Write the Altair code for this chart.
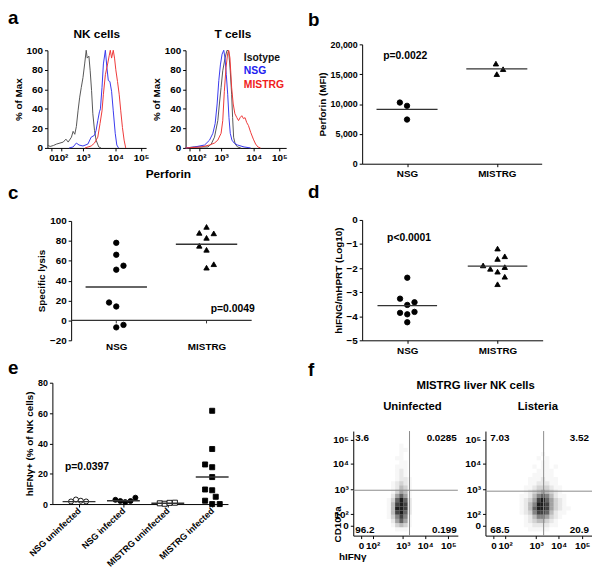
import json
import altair as alt
import pandas as pd

# ============================ DATA ============================
FLOW_TICK_LABELS = ["0", "10²", "10³", "10⁴", "10⁵"]

# (a) perforin histograms: x = position on the flow display axis (0-100), y = % of max
HIST_TICKS = [4, 13.5, 36, 69, 95]
nk_iso_x = [0, 2.7, 6, 9.3, 12.7, 16, 18.7, 21, 24.3, 26, 27.7, 29.3, 31, 32.7, 34.3, 36, 37.7, 39.3, 40.3, 42, 43.3, 44.7, 46, 47.7, 49.3, 52, 54.3]
nk_iso_y = [3, 1.5, 2.5, 4, 5, 6, 9, 6, 11, 17, 14, 22, 38, 52, 62, 72, 86, 100, 92, 94, 79, 59, 35, 18, 8, 1, 0]
nk_nsg_x = [22, 26, 29.3, 32, 36, 41, 44.3, 47.7, 49.3, 51, 52.7, 53.7, 55.3, 56.7, 58.7, 60.3, 61.7, 63.3, 65, 66.7, 68.7, 70.3, 72]
nk_nsg_y = [0, 1, 5, 3, 2, 4, 11, 13, 18, 28, 37, 40, 62, 86, 100, 82, 69, 68, 58, 38, 15, 3, 0]
nk_mis_x = [38, 44.3, 47.7, 51, 53.3, 55.3, 56.7, 58.7, 61, 62.7, 63.7, 65, 66.7, 68, 69.3, 71, 72.7, 74.3, 76, 77.7, 79.3]
nk_mis_y = [0, 2, 5, 11, 25, 38, 55, 75, 86, 95, 100, 92, 100, 92, 80, 68, 55, 38, 21, 8, 0]
t_iso_x = [0, 9.3, 22.7, 26, 29.3, 32.7, 34.3, 36, 37.7, 40, 42, 43.7, 45.3, 46.7, 47.7, 48.7, 50.3, 52.7, 56]
t_iso_y = [0, 1, 1, 4, 11, 28, 45, 62, 79, 92, 100, 99, 79, 55, 31, 11, 4, 1, 0]
t_nsg_x = [0, 9.3, 19.3, 24.3, 27.7, 30, 32, 33.7, 35.3, 37, 38.7, 40, 41.3, 42.7, 44, 45.3, 47, 49.3, 52.7, 59.3, 66]
t_nsg_y = [0, 1, 3, 8, 15, 25, 45, 69, 85, 96, 100, 92, 75, 55, 31, 15, 8, 5, 3, 1, 0]
t_mis_x = [0, 16, 24.3, 29.3, 32.7, 36, 37.7, 39.3, 41, 42.7, 43.7, 45, 46.7, 48.3, 50, 52, 53.7, 55.3, 57, 58.7, 60.3, 62, 63.7, 66, 68.7, 71, 73.3, 76]
t_mis_y = [0, 1, 3, 5, 8, 15, 28, 58, 82, 97, 100, 92, 62, 45, 35, 31, 28, 31, 33, 30, 31, 26, 23, 16, 9, 4, 1, 0]
legend_names = ["Isotype", "NSG", "MISTRG"]
legend_colors = ["#111111", "#2020f0", "#f02020"]
line_colors = ["#555555", "#3838ee", "#ee3838"]

# (b) perforin MFI
groups2 = ["NSG", "MISTRG"]
b_cat = [0, 0, 0, 1, 1, 1]
b_jit = [-0.08, 0.0, 0.0, -0.01, 0.0, 0.07]
b_val = [10250, 9700, 7400, 16770, 15010, 15840]
b_mean = [9100, 15900]

# (c) specific lysis
c_cat = [0] * 8 + [1] * 8
c_jit = [0, 0, 0, 0.08, -0.08, 0, 0, 0.08, 0, -0.08, 0.08, 0, -0.08, 0, 0, 0.08]
c_val = [78, 66, 51, 55, 18, 14, -7, -4.5, 94, 88, 87.5, 83, 75, 71, 53, 56.5]
c_mean = [33.6, 76.5]

# (d) hIFNG / mHPRT (log10)
d_cat = [0] * 8 + [1] * 9
d_jit = [0, -0.08, 0.08, 0, -0.08, 0, 0.08, 0, 0, 0, 0.08, -0.16, -0.08, 0, 0.08, 0.08, 0]
d_val = [-2.40, -3.27, -3.42, -3.53, -3.86, -3.92, -3.82, -4.25,
         -1.19, -1.62, -1.51, -1.89, -2.03, -2.15, -1.96, -2.36, -2.67]
d_mean = [-3.56, -1.92]

# (e) hIFNg+ % of NK cells
groups4 = ["NSG uninfected", "NSG infected", "MISTRG uninfected", "MISTRG infected"]
e_cat = [0] * 4 + [1] * 5 + [2] * 4 + [3] * 11
e_jit = [-0.18, -0.07, 0.04, 0.16,
         -0.18, -0.07, 0.04, 0.16, 0.27,
         -0.18, -0.07, 0.04, 0.16,
         0, 0, -0.16, 0, 0, -0.16, 0, -0.16, 0.08, 0, 0.17]
e_val = [1.7, 3.0, 2.2, 1.7,
         2.8, 2.0, 1.3, 2.0, 4.2,
         0.5, 0.2, 0.8, 0.9,
         61.5, 36.3, 26.1, 24.3, 17.8, 9.6, 9.1, 2.2, 4.8, 0, 0]
e_mean = [1.6, 2.2, 0.5, 17.8]

# (f) flow plots, display channel units (0-1000); density read by eye per 40x40 cell
F_XTICKS = [75, 185, 475, 688, 908]
F_YTICKS = [94, 203, 443, 689, 915]
f1_cols = [340, 380, 420, 460, 500, 540, 580]
f1_rows = [860, 820, 780, 740, 700, 660, 620, 580, 540, 500, 460, 420, 380, 340, 300, 260, 220, 180, 140, 100, 60]
f1_grid = ["0001000", "0001100", "0001000", "0011000", "0001100", "0011100", "0012100",
           "0012100", "0012210", "0123210", "0124310", "0135410", "0257510", "1379720",
           "1489820", "1499820", "1489720", "1368610", "0257510", "0134310", "0011100"]
f2_cols = [300, 340, 380, 420, 460, 500, 540, 580, 620, 660, 700, 740, 780]
f2_rows = [780, 740, 700, 660, 620, 580, 540, 500, 460, 420, 380, 340, 300, 260, 220, 180, 140, 100, 60]
f2_grid = ["0000001000000", "0000010100000", "0000001100000", "0000101101000", "0000011110000",
           "0000111110000", "0001112111000", "0001122211000", "0011233321100", "0012345432100",
           "0112467642110", "0123589753210", "0124699853210", "0124799853211", "0123688742110",
           "0012466532100", "0012344321000", "0011222211000", "0001111100000"]
f1_gate = [538, 434]
f2_gate = [546, 425]
f1_quads = ["3.6", "0.0285", "96.2", "0.199"]
f2_quads = ["7.03", "3.52", "68.5", "20.9"]

# ============================ LAYOUT ============================
W, H, M = 592, 563, 8
FONT = "Liberation Sans"
LAYOUT = {
    "nk": {"x": (48, 148), "y": (146, 47), "xd": [0, 100], "yd": [0, 100]},
    "t":  {"x": (188, 290), "y": (146, 47), "xd": [0, 102], "yd": [0, 100]},
    "b":  {"x": (367, 549), "y": (162, 41), "xd": [-0.5, 1.5], "yd": [0, 20000]},
    "c":  {"x": (72, 255), "y": (341, 220), "xd": [-0.5, 1.5], "yd": [-20, 100]},
    "d":  {"x": (367, 550), "y": (341, 219), "xd": [-0.5, 1.5], "yd": [-5, 0]},
    "e":  {"x": (53, 231), "y": (507, 384), "xd": [-0.6, 3.356], "yd": [0, 80]},
    "f1": {"x": (358, 464), "y": (539, 433), "xd": [0, 1000], "yd": [0, 1000]},
    "f2": {"x": (492, 600), "y": (539, 433), "xd": [0, 1000], "yd": [0, 1000]},
}


def xsc(p):
    L = LAYOUT[p]
    return alt.Scale(domain=L["xd"], range=[L["x"][0] - M, L["x"][1] - M], nice=False, zero=False)


def ysc(p):
    L = LAYOUT[p]
    return alt.Scale(domain=L["yd"], range=[L["y"][0] - M, L["y"][1] - M], nice=False, zero=False)


def xax(p, **kw):
    return alt.Axis(orient="bottom", offset=LAYOUT[p]["y"][0] - M - H, grid=False, **kw)


def yax(p, **kw):
    return alt.Axis(orient="left", offset=-(LAYOUT[p]["x"][0] - M), grid=False, **kw)


def X(p, f="x", axis=None):
    return alt.X(f, type="quantitative", scale=xsc(p), axis=axis)


def Y(p, f="y", axis=None):
    return alt.Y(f, type="quantitative", scale=ysc(p), axis=axis)


def label_expr(labels, values):
    return f"{json.dumps(labels, ensure_ascii=False)}[indexof({json.dumps(values)}, datum.value)]"


def texts(p, xs, ys, labels, size=10.5, color="black", align="center", baseline="middle"):
    df = pd.DataFrame({"x": xs, "y": ys, "t": labels})
    return alt.Chart(df).mark_text(font=FONT, fontWeight="bold", fontSize=size, color=color,
                                   align=align, baseline=baseline).encode(
        x=X(p), y=Y(p), text="t:N")


def line(p, xs, ys, color, xaxis=None, yaxis=None):
    df = pd.DataFrame({"x": xs, "y": ys})
    return alt.Chart(df).mark_line(color=color, strokeWidth=1).encode(
        x=X(p, axis=xaxis), y=Y(p, axis=yaxis))


def dots(p, cats, jits, vals, shape, filled=True, size=30, xaxis=None, yaxis=None):
    df = pd.DataFrame({"x": [c + j for c, j in zip(cats, jits)], "y": vals})
    mk = alt.Chart(df).mark_point(shape=shape, filled=True, size=size,
                                  fill="black" if filled else "white", stroke="black",
                                  strokeWidth=0.9, opacity=1)
    return mk.encode(x=X(p, axis=xaxis), y=Y(p, axis=yaxis))


def means(p, cats, vals, half):
    df = pd.DataFrame({"x": [c - half for c in cats], "x2": [c + half for c in cats], "y": vals})
    return alt.Chart(df).mark_rule(color="#333333", strokeWidth=1.4).encode(
        x=X(p), x2="x2:Q", y=Y(p))


def density(p, cols, rows, grid):
    recs = []
    for r, row in zip(rows, grid):
        for c, ch in zip(cols, row):
            if ch != "0":
                recs.append({"x": c - 20, "x2": c + 20, "y": r - 20, "y2": r + 20, "d": int(ch)})
    df = pd.DataFrame(recs)
    return alt.Chart(df).mark_rect(color="#111111").encode(
        x=X(p), x2="x2:Q", y=Y(p), y2="y2:Q",
        opacity=alt.Opacity("d:Q", scale=alt.Scale(type="pow", exponent=1.5, domain=[0, 9],
                                                   range=[0, 0.95]), legend=None))


def gate(p, g):
    df = pd.DataFrame({"x": [g[0], 0], "x2": [g[0], 1000], "y": [0, g[1]], "y2": [1000, g[1]]})
    return alt.Chart(df).mark_rule(color="#8a8a8a", strokeWidth=1).encode(
        x=X(p), x2="x2:Q", y=Y(p), y2="y2:Q")


layers = []

# ---------------- (a) ----------------
hist_lab = label_expr(FLOW_TICK_LABELS, HIST_TICKS)
layers.append(line("nk", nk_iso_x, nk_iso_y, line_colors[0],
                   xaxis=xax("nk", values=HIST_TICKS, labelExpr=hist_lab, title="Perforin",
                             titleX=162, titleY=26, titleBaseline="middle", titleFontSize=12,
                             labelFontSize=10),
                   yaxis=yax("nk", values=[0, 20, 40, 60, 80, 100], title="% of Max", labelFontSize=10)))
layers.append(line("nk", nk_nsg_x, nk_nsg_y, line_colors[1]))
layers.append(line("nk", nk_mis_x, nk_mis_y, line_colors[2]))
layers.append(line("t", t_iso_x, t_iso_y, line_colors[0],
                   xaxis=xax("t", values=HIST_TICKS, labelExpr=hist_lab, title=None, labelFontSize=10),
                   yaxis=yax("t", values=[0, 20, 40, 60, 80, 100], title="% of Max", labelFontSize=10)))
layers.append(line("t", t_nsg_x, t_nsg_y, line_colors[1]))
layers.append(line("t", t_mis_x, t_mis_y, line_colors[2]))
layers.append(texts("nk", [50], [117], ["NK cells"], size=12))
layers.append(texts("t", [48], [117], ["T cells"], size=12))
for name, col, yy in zip(legend_names, legend_colors, [92, 79, 64]):
    layers.append(texts("t", [59], [yy], [name], size=10.5, color=col, align="left"))

# ---------------- (b) ----------------
cat_lab2 = f"{json.dumps(groups2)}[datum.value]"
layers.append(dots("b", b_cat[:3], b_jit[:3], b_val[:3], "circle",
                   xaxis=xax("b", values=[0, 1], labelExpr=cat_lab2, title=None, labelFontSize=10),
                   yaxis=yax("b", values=[0, 5000, 10000, 15000, 20000], format=",d",
                             title="Perforin (MFI)")))
layers.append(dots("b", b_cat[3:], b_jit[3:], b_val[3:], "triangle-up"))
layers.append(means("b", [0, 1], b_mean, 0.34))
layers.append(texts("b", [-0.02], [18080], ["p=0.0022"]))

# ---------------- (c) ----------------
zero_df = pd.DataFrame({"x": [-0.5], "x2": [1.5], "y": [0]})
layers.append(alt.Chart(zero_df).mark_rule(color="#333333", strokeWidth=1.4).encode(
    x=X("c", axis=xax("c", values=[0, 1], labelExpr=cat_lab2, title=None, domain=False,
                      ticks=False, labelPadding=1, labelFontSize=10)),
    x2="x2:Q",
    y=Y("c", axis=yax("c", values=[-20, 0, 20, 40, 60, 80, 100], title="Specific lysis",
                      labelFontSize=10))))
tick_df = pd.DataFrame({"x": [0, 1], "y": [0, 0], "y2": [-3, -3]})
layers.append(alt.Chart(tick_df).mark_rule(color="#333333", strokeWidth=1).encode(
    x=X("c"), y=Y("c"), y2="y2:Q"))
layers.append(dots("c", c_cat[:8], c_jit[:8], c_val[:8], "circle"))
layers.append(dots("c", c_cat[8:], c_jit[8:], c_val[8:], "triangle-up"))
layers.append(means("c", [0, 1], c_mean, 0.34))
layers.append(texts("c", [1.29], [11.4], ["p=0.0049"]))

# ---------------- (d) ----------------
layers.append(dots("d", d_cat[:8], d_jit[:8], d_val[:8], "circle",
                   xaxis=xax("d", values=[0, 1], labelExpr=cat_lab2, title=None, labelFontSize=10),
                   yaxis=yax("d", values=[-5, -4, -3, -2, -1, 0], title="hIFNG/mHPRT (Log10)",
                             labelFontSize=10)))
layers.append(dots("d", d_cat[8:], d_jit[8:], d_val[8:], "triangle-up"))
layers.append(means("d", [0, 1], d_mean, 0.33))
layers.append(texts("d", [0.02], [-0.75], ["p<0.0001"]))

# ---------------- (e) ----------------
cat_lab4 = f"{json.dumps(groups4)}[datum.value]"
e_slices = [(0, 4, "circle", False), (4, 9, "circle", True), (9, 13, "square", False), (13, 24, "square", True)]
for i, (a0, a1, shp, fl) in enumerate(e_slices):
    kw = {}
    if i == 0:
        kw = dict(xaxis=xax("e", values=[0, 1, 2, 3], labelExpr=cat_lab4, title=None, labelAngle=-43,
                            labelAlign="right", labelBaseline="middle", labelFontSize=9, labelPadding=2),
                  yaxis=yax("e", values=[0, 20, 40, 60, 80], title="hIFNγ+ (% of NK cells)"))
    layers.append(dots("e", e_cat[a0:a1], e_jit[a0:a1], e_val[a0:a1], shp, filled=fl, size=26, **kw))
layers.append(means("e", [0, 1, 2, 3], e_mean, 0.37))
layers.append(texts("e", [0.18], [24.6], ["p=0.0397"]))

# ---------------- (f) ----------------
fx_lab = label_expr(FLOW_TICK_LABELS, F_XTICKS)
fy_lab = label_expr(FLOW_TICK_LABELS, F_YTICKS)
layers.append(density("f1", f1_cols, f1_rows, f1_grid))
layers.append(gate("f1", f1_gate).encode(
    x=X("f1", axis=xax("f1", values=F_XTICKS, labelExpr=fx_lab, title="hIFNγ", titleX=349,
                       titleY=21, titleBaseline="middle", labelFontSize=10)),
    y=Y("f1", axis=yax("f1", values=F_YTICKS, labelExpr=fy_lab, title="CD107a", titleX=-16,
                       titleY=519, titleBaseline="middle", labelFontSize=10))))
layers.append(density("f2", f2_cols, f2_rows, f2_grid))
layers.append(gate("f2", f2_gate).encode(
    x=X("f2", axis=xax("f2", values=F_XTICKS, labelExpr=fx_lab, title=None, labelFontSize=10)),
    y=Y("f2", axis=yax("f2", values=F_YTICKS, labelExpr=fy_lab, title=None, labelFontSize=10))))
layers.append(texts("f1", [19, 19], [934, 57], [f1_quads[0], f1_quads[2]], size=10, align="left"))
layers.append(texts("f1", [990, 990], [934, 57], [f1_quads[1], f1_quads[3]], size=10, align="right"))
layers.append(texts("f2", [46, 46], [934, 57], [f2_quads[0], f2_quads[2]], size=10, align="left"))
layers.append(texts("f2", [972, 972], [934, 57], [f2_quads[1], f2_quads[3]], size=10, align="right"))
layers.append(texts("f1", [1170], [1434], ["MISTRG liver NK cells"], size=11.5))
layers.append(texts("f1", [566], [1226], ["Uninfected"], size=11.5))
layers.append(texts("f2", [491], [1226], ["Listeria"], size=11.5))

# ---------------- panel letters (alphabetic baseline) ----------------
layers.append(texts("nk", [-40], [127], ["a"], size=19, align="left", baseline="alphabetic"))
layers.append(texts("b", [-1.104], [23000], ["b"], size=19, align="left", baseline="alphabetic"))
layers.append(texts("c", [-1.2], [121.8], ["c"], size=19, align="left", baseline="alphabetic"))
layers.append(texts("d", [-1.101], [0.90], ["d"], size=19, align="left", baseline="alphabetic"))
layers.append(texts("e", [-1.6], [85.9], ["e"], size=19, align="left", baseline="alphabetic"))
layers.append(texts("f1", [-434], [1528], ["f"], size=19, align="left", baseline="alphabetic"))

chart = alt.layer(*layers).resolve_scale(x="independent", y="independent").properties(
    width=W, height=H, autosize=alt.AutoSizeParams(type="none"), padding=0
).configure_axis(
    labelFont=FONT, labelFontWeight="bold", labelFontSize=9, labelColor="black",
    titleFont=FONT, titleFontWeight="bold", titleFontSize=10, titleColor="black",
    domainColor="black", tickColor="black", tickSize=3, labelPadding=2,
    labelFlush=False, labelOverlap=False, grid=False, titlePadding=3
).configure_view(stroke=None)

chart.save("out.html", embed_options={"renderer": "svg", "actions": False})
